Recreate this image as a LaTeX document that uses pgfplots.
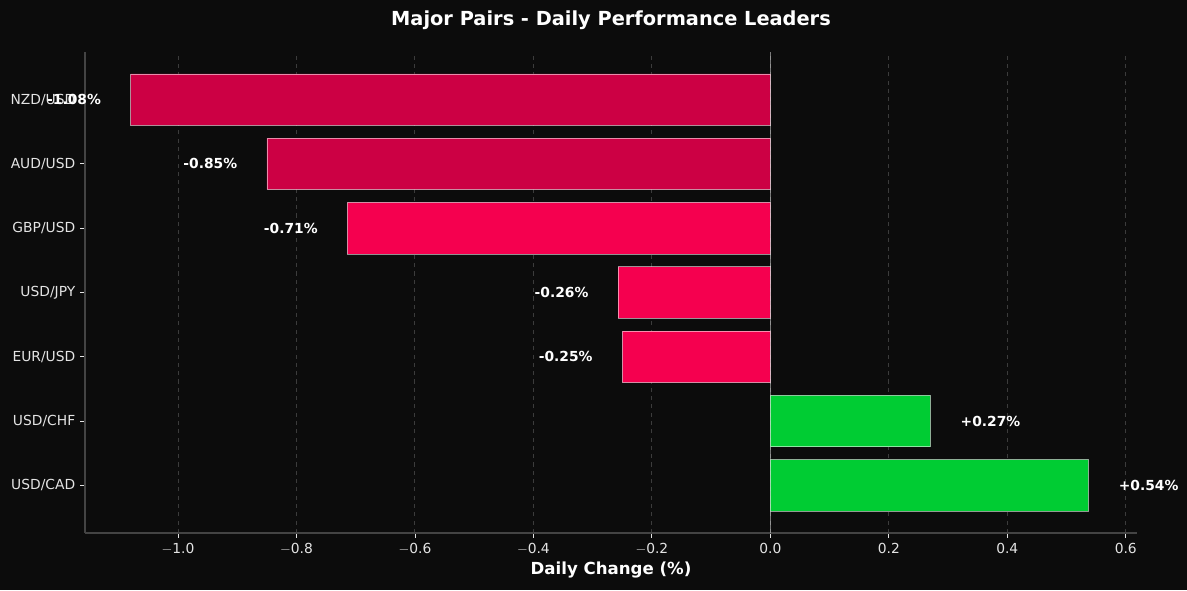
\documentclass[border=0pt]{standalone}
\usepackage{fontspec}
\setmainfont{DejaVu Sans}
\usepackage{pgfplots}
\pgfplotsset{compat=1.18}

\definecolor{bg}{HTML}{0C0C0C}
\definecolor{darkred}{HTML}{CC0044}
\definecolor{brightred}{HTML}{F5004F}
\definecolor{upgreen}{HTML}{00CC33}
\definecolor{spine}{HTML}{444444}
\definecolor{ticktxt}{HTML}{E4E4E4}

\begin{document}
\begin{tikzpicture}[x=1bp,y=1bp]
\fill[bg] (0,0) rectangle (854.64,424.8);
\begin{axis}[
    at={(61.2bp,41.04bp)}, anchor=south west,
    scale only axis,
    width=757.44bp, height=346.32bp,
    xmin=-1.157, xmax=0.619,
    ymin=-0.74, ymax=6.74,
    xbar, bar shift=0pt, bar width=0.8,
    xtick={-1.0,-0.8,...,0.6},
    xticklabels={$-$1.0,$-$0.8,$-$0.6,$-$0.4,$-$0.2,0.0,0.2,0.4,0.6},
    ytick={0,...,6},
    yticklabels={USD/CAD,USD/CHF,EUR/USD,USD/JPY,GBP/USD,AUD/USD,NZD/USD},
    /pgf/number format/assume math mode=true,
    ticklabel style={font=\fontsize{10}{12}\selectfont, text=ticktxt},
    tick style={draw=ticktxt, line width=0.6pt},
    major tick length=3.5bp,
    tick align=outside,
    xtick pos=bottom, ytick pos=left,
    axis x line*=bottom, axis y line*=left,
    axis line style={draw=spine, line width=0.8pt, -},
    xmajorgrids,
    x grid style={white, opacity=0.2, dashed, line width=0.7pt},
    ymajorgrids=false,
    title={Major Pairs - Daily Performance Leaders},
    every axis title/.style={font=\fontsize{14}{16}\selectfont\bfseries, text=white,
        at={(axis description cs:0.5,1)}, anchor=center, yshift=23.2bp},
    xlabel={Daily Change (\%)},
    every axis x label/.style={at={(axis description cs:0.5,0)}, anchor=center,
        yshift=-26.6bp, font=\fontsize{12}{14}\selectfont\bfseries, text=white},
    point meta=x,
    nodes near coords={\pgfmathprintnumber[fixed,fixed zerofill,precision=2,showpos]{\pgfplotspointmeta}\%},
    nodes near coords align=horizontal,
    every node near coord/.append style={font=\fontsize{10}{12}\selectfont\bfseries, text=white},
    clip=false,
]
\draw[white, opacity=0.45, line width=0.8pt] (axis cs:0,-0.74) -- (axis cs:0,6.74);

\addplot[fill=darkred, draw=white, draw opacity=0.55, line width=0.5pt,
    every node near coord/.append style={xshift=-17.8bp}]
    coordinates {(-1.08,6) (-0.85,5)};
\addplot[fill=brightred, draw=white, draw opacity=0.55, line width=0.5pt,
    every node near coord/.append style={xshift=-17.8bp}]
    coordinates {(-0.714,4) (-0.257,3) (-0.25,2)};
\addplot[fill=upgreen, draw=white, draw opacity=0.55, line width=0.5pt,
    every node near coord/.append style={xshift=18.3bp}]
    coordinates {(0.27,1) (0.537,0)};
\end{axis}
\pgfresetboundingbox
\path[use as bounding box] (0,0) rectangle (854.64,424.8);
\end{tikzpicture}
\end{document}
